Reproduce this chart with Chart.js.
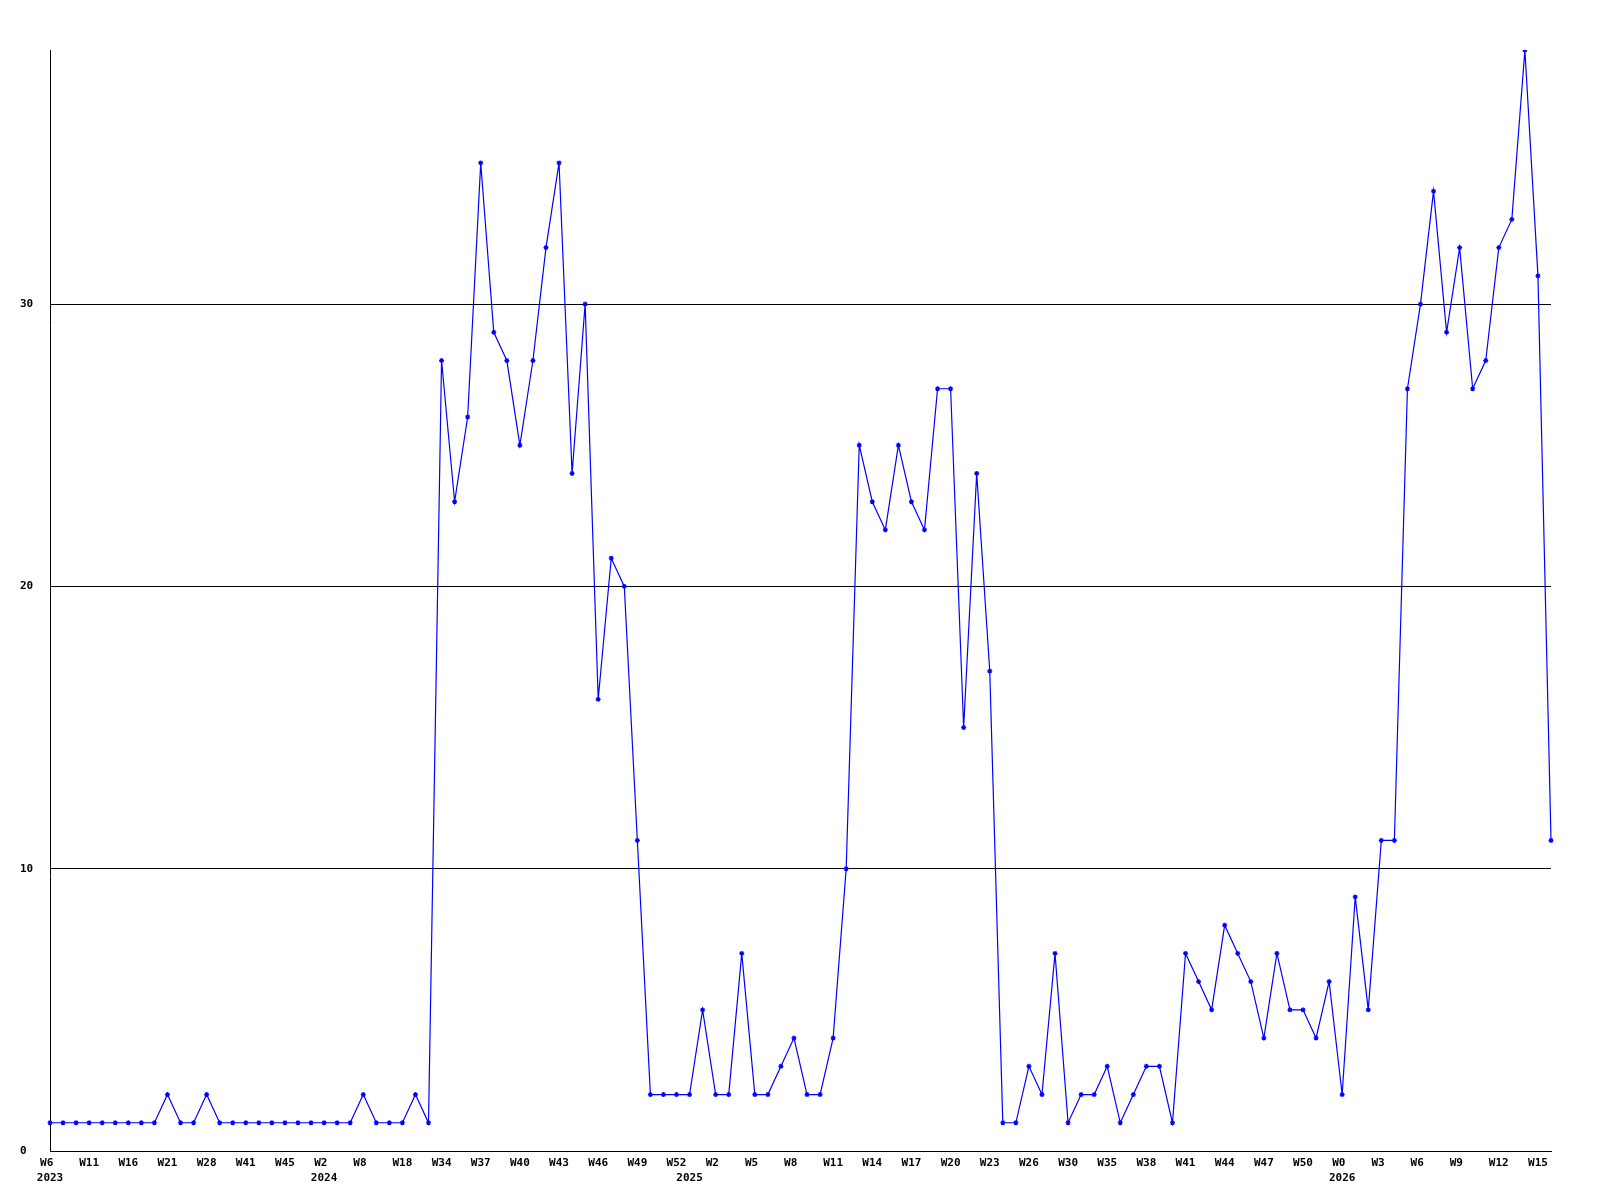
<!DOCTYPE html>
<html>
<head>
<meta charset="utf-8">
<script src="https://cdn.jsdelivr.net/npm/chart.js@4/dist/chart.umd.min.js"></script>
<style>
  body { margin: 0; background: #fff; }
</style>
</head>
<body>
<canvas id="weekly" width="1600" height="1200"></canvas>
<script>
// one value per plotted week (the source skips some weeks)
const counts = [
  1, 1, 1, 1, 1, 1, 1, 1, 1, 2, 1, 1, 2, 1, 1, 1, 1, 1, 1, 1, 1, 1, 1, 1, 2, 1, 1, 1, 2, 1,
  28, 23, 26, 35, 29, 28, 25, 28, 32, 35, 24, 30, 16, 21, 20, 11,
  2, 2, 2, 2,
  5, 2, 2, 7, 2, 2, 3, 4, 2, 2, 4, 10,
  25, 23, 22, 25, 23, 22, 27, 27, 15, 24, 17,
  1, 1, 3, 2, 7, 1, 2, 2, 3, 1, 2, 3, 3, 1,
  7, 6, 5, 8, 7, 6, 4, 7, 5, 5, 4, 6, 2, 9, 5, 11, 11,
  27, 30, 34, 29, 32, 27, 28, 32, 33, 39, 31, 11
];

// a week label is printed under every third point
const tickWeeks = [
  "W6", "W11", "W16", "W21", "W28", "W41", "W45", "W2", "W8", "W18",
  "W34", "W37", "W40", "W43", "W46", "W49", "W52", "W2", "W5", "W8",
  "W11", "W14", "W17", "W20", "W23", "W26", "W30", "W35", "W38", "W41",
  "W44", "W47", "W50", "W0", "W3", "W6", "W9", "W12", "W15"
];
const tickEvery = 3;

// year shown under the first point of each year
const yearPoints = [0, 21, 49, 99];
const yearLabels = ["2023", "2024", "2025", "2026"];

const yTickStep = 10;

const labels = counts.map((_, i) => {
  const wk = i % tickEvery === 0 ? tickWeeks[i / tickEvery].padEnd(3, " ") : "";
  const y = yearPoints.indexOf(i);
  return y >= 0 ? [wk, yearLabels[y]] : wk;
});

const font = { family: "'DejaVu Sans Mono', monospace", size: 11, weight: "bold", lineHeight: "15px" };

new Chart(document.getElementById("weekly"), {
  type: "line",
  data: {
    labels: labels,
    datasets: [{
      data: counts,
      borderColor: "#0000ff",
      backgroundColor: "#0000ff",
      borderWidth: 1.2,
      tension: 0,
      pointStyle: "star",
      pointRadius: 2.5,
      pointBorderWidth: 1.2,
      pointBorderColor: "#0000ff"
    }]
  },
  options: {
    responsive: false,
    animation: false,
    devicePixelRatio: 1,
    layout: { padding: { top: 50, right: 49, left: 20, bottom: 9 } },
    plugins: { legend: { display: false }, tooltip: { enabled: false } },
    scales: {
      x: {
        type: "category",
        offset: false,
        grid: { display: false, drawTicks: false },
        border: { display: true, color: "#000", width: 1 },
        ticks: {
          autoSkip: false,
          maxRotation: 0,
          minRotation: 0,
          padding: 5,
          color: "#000",
          font: font
        }
      },
      y: {
        min: 0,
        max: Math.max(...counts),
        afterBuildTicks: (s) => { s.ticks = s.ticks.filter((t) => t.value % yTickStep === 0); },
        afterFit: (s) => { s.width = 30; },
        grid: { color: "#000", lineWidth: 1, drawTicks: false },
        border: { display: true, color: "#000", width: 1 },
        ticks: {
          stepSize: yTickStep,
          crossAlign: "far",
          color: "#000",
          font: font
        }
      }
    }
  }
});
</script>
</body>
</html>
